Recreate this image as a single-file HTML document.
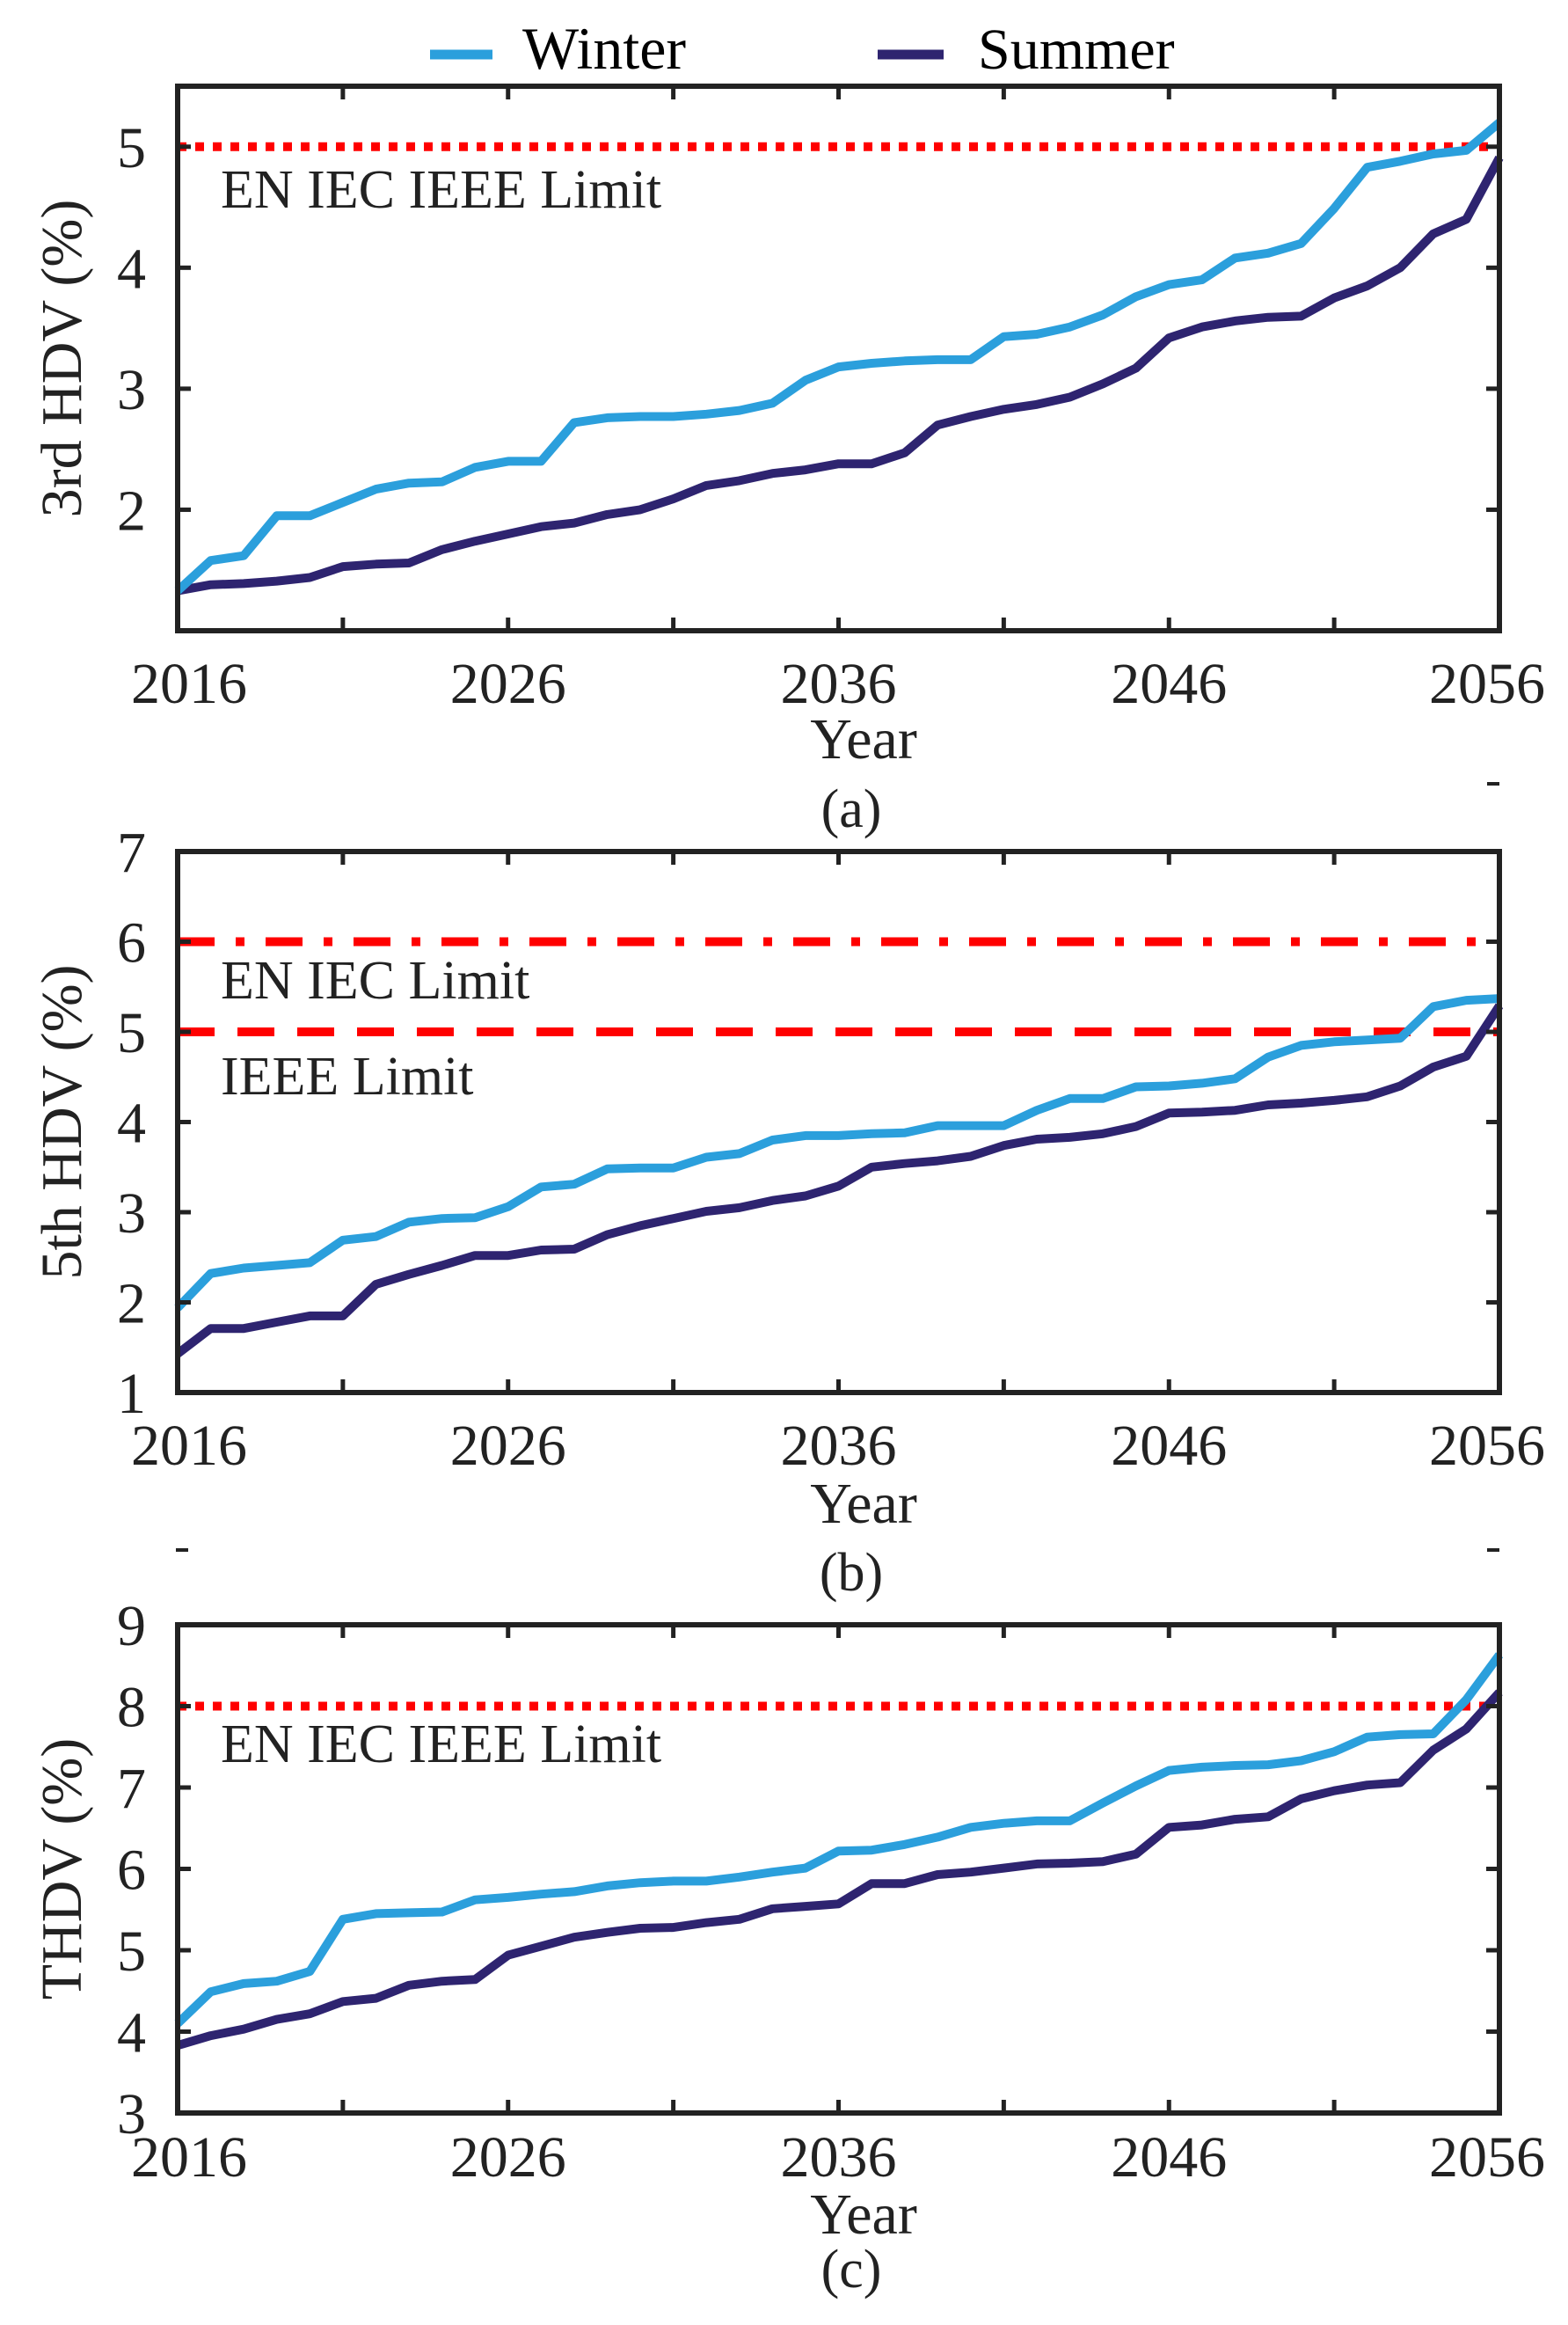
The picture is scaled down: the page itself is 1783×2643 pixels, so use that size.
<!DOCTYPE html>
<html><head><meta charset="utf-8">
<style>
html,body{margin:0;padding:0;background:#fff;}
svg{display:block;font-family:"Liberation Serif",serif;}
</style></head>
<body>
<svg id="fig" width="1783" height="2643" viewBox="0 0 1783 2643" xmlns="http://www.w3.org/2000/svg">
<rect x="0" y="0" width="1783" height="2643" fill="#fff"/>
<g>
  <line x1="489" y1="62" x2="560" y2="62" stroke="#2b9fdc" stroke-width="11"/>
  <text x="594" y="78" font-size="68">Winter</text>
  <line x1="998" y1="62" x2="1073" y2="62" stroke="#2e2470" stroke-width="11"/>
  <text x="1112" y="78" font-size="66">Summer</text>
</g>
</svg>
<script>
const years = [];
for (let y = 2016; y <= 2056; y++) years.push(y);
const xTickLabels = ["2016","2026","2036","2046","2056"];

const winterA = [1.33,1.58,1.62,1.95,1.95,2.06,2.17,2.22,2.23,2.35,2.40,2.40,2.72,2.76,2.77,2.77,2.79,2.82,2.88,3.07,3.18,3.21,3.23,3.24,3.24,3.43,3.45,3.51,3.61,3.76,3.86,3.90,4.08,4.12,4.20,4.49,4.83,4.88,4.94,4.97,5.20];
const summerA = [1.33,1.38,1.39,1.41,1.44,1.53,1.55,1.56,1.67,1.74,1.80,1.86,1.89,1.96,2.00,2.09,2.20,2.24,2.30,2.33,2.38,2.38,2.47,2.70,2.77,2.83,2.87,2.93,3.04,3.17,3.42,3.51,3.56,3.59,3.60,3.75,3.85,4.00,4.28,4.40,4.91];
const winterB = [1.94,2.32,2.38,2.41,2.44,2.69,2.73,2.89,2.93,2.94,3.06,3.28,3.31,3.48,3.49,3.49,3.61,3.65,3.80,3.85,3.85,3.87,3.88,3.96,3.96,3.96,4.13,4.26,4.26,4.39,4.40,4.43,4.48,4.72,4.85,4.89,4.91,4.93,5.28,5.35,5.37];
const summerB = [1.43,1.71,1.71,1.78,1.85,1.85,2.20,2.31,2.41,2.52,2.52,2.58,2.59,2.75,2.85,2.93,3.01,3.05,3.13,3.18,3.29,3.50,3.54,3.57,3.62,3.74,3.81,3.83,3.87,3.95,4.10,4.11,4.13,4.19,4.21,4.24,4.28,4.40,4.61,4.73,5.29];
const winterC = [4.10,4.49,4.59,4.62,4.74,5.38,5.45,5.46,5.47,5.62,5.65,5.69,5.72,5.79,5.83,5.85,5.85,5.90,5.96,6.01,6.22,6.23,6.30,6.39,6.51,6.56,6.59,6.59,6.81,7.02,7.21,7.25,7.27,7.28,7.33,7.44,7.62,7.65,7.66,8.08,8.63];
const summerC = [3.83,3.95,4.03,4.15,4.22,4.37,4.41,4.57,4.62,4.64,4.94,5.05,5.16,5.22,5.27,5.28,5.34,5.38,5.51,5.54,5.57,5.82,5.82,5.93,5.96,6.01,6.06,6.07,6.09,6.18,6.51,6.54,6.61,6.64,6.86,6.96,7.03,7.06,7.46,7.72,8.17];

const yTicksA = [2,3,4,5];
const yTicksB = [1,2,3,4,5,6,7];
const yTicksC = [3,4,5,6,7,8,9];
const limitsA = [5];
const limitsB = [6,5];
const limitsC = [8];

const NS = "http://www.w3.org/2000/svg";
const svg = document.getElementById("fig");
function mk(tag, attrs, parent){
  const e = document.createElementNS(NS, tag);
  for (const k in attrs) e.setAttribute(k, attrs[k]);
  (parent||svg).appendChild(e);
  return e;
}

const L = 202, R = 1705;
function drawPanel(p){
  const g = mk("g", {});
  
  
  const xs = v => L + (v - 2016) / 40 * (R - L);
  const ys = v => p.bottom - (v - p.ymin) / (p.ymax - p.ymin) * (p.bottom - p.top);
  p.limits.forEach((lv, i) => {
    const ln = mk("line", {x1:L, x2:R, y1:ys(lv), y2:ys(lv), stroke:"#ff0000", "stroke-width":10, "stroke-dasharray":p.dash[i]}, g);
    
    
  });
  [[p.summer,"#2e2470","summer-line"],[p.winter,"#2b9fdc","winter-line"]].forEach(([arr,col,nm]) => {
    const pts = arr.map((v,i) => xs(years[i]).toFixed(1) + "," + ys(v).toFixed(1)).join(" ");
    const pl = mk("polyline", {points:pts, fill:"none", stroke:col, "stroke-width":10, "stroke-linejoin":"round"}, g);
    
    
  });
  const fr = mk("rect", {x:L, y:p.top, width:R-L, height:p.bottom-p.top, fill:"none", stroke:"#222", "stroke-width":6}, g);
  
  
  for (let yr = 2021; yr < 2056; yr += 5) {
    const x = xs(yr);
    const t1 = mk("line", {x1:x, x2:x, y1:p.bottom, y2:p.bottom-15, stroke:"#222", "stroke-width":5}, g);
    
    
    const t2 = mk("line", {x1:x, x2:x, y1:p.top, y2:p.top+15, stroke:"#222", "stroke-width":5}, g);
    
    
  }
  xTickLabels.forEach((lab, i) => {
    let x = xs(+lab);
    if (i === 0) x = 215;
    if (i === xTickLabels.length - 1) x = 1691;
    const t = mk("text", {x:x, y:p.xlabY, "font-size":66, "text-anchor":"middle", fill:"#222"}, g);
    t.textContent = lab;
    
    
  });
  p.yticks.forEach(v => {
    const y = ys(v);
    if (v > p.ymin && v < p.ymax) {
      const a = mk("line", {x1:L, x2:L+15, y1:y, y2:y, stroke:"#222", "stroke-width":5}, g);
      
      
      const b = mk("line", {x1:R, x2:R-15, y1:y, y2:y, stroke:"#222", "stroke-width":5}, g);
      
      
    }
    const t = mk("text", {x:166, y:y+23, "font-size":66, "text-anchor":"end", fill:"#222"}, g);
    t.textContent = String(v);
    
    
  });
  const yt = mk("text", {x:0, y:0, "font-size":66, "text-anchor":"middle", fill:"#222", transform:"translate(92," + ((p.top+p.bottom)/2) + ") rotate(-90)"}, g);
  yt.textContent = p.ytitle;
  
  
  const xt = mk("text", {x:982, y:p.yearY, "font-size":66, "text-anchor":"middle", fill:"#222"}, g);
  xt.textContent = "Year";
  
  
  const cap = mk("text", {x:968, y:p.capY, "font-size":62, "text-anchor":"middle", fill:"#222"}, g);
  cap.textContent = p.cap;
  
  
  p.notes.forEach(n => {
    const t = mk("text", {x:251, y:n[1], "font-size":62, fill:"#222"}, g);
    t.textContent = n[0];
    
    
  });
}

drawPanel({name:"panel-a-3rd-hdv", top:98, bottom:717, ymin:1, ymax:5.5, winter:winterA, summer:summerA, yticks:yTicksA,
  limits:limitsA, dash:["10 10"], ytitle:"3rd HDV (%)", xlabY:799, yearY:862, capY:940, cap:"(a)",
  notes:[["EN IEC IEEE Limit",236]]});
drawPanel({name:"panel-b-5th-hdv", top:968, bottom:1583, ymin:1, ymax:7, winter:winterB, summer:summerB, yticks:yTicksB,
  limits:limitsB, dash:["42 24 10 24","42 26"], ytitle:"5th HDV (%)", xlabY:1665, yearY:1731, capY:1808, cap:"(b)",
  notes:[["EN IEC Limit",1135],["IEEE Limit",1244]]});
drawPanel({name:"panel-c-thdv", top:1847, bottom:2402, ymin:3, ymax:9, winter:winterC, summer:summerC, yticks:yTicksC,
  limits:limitsC, dash:["10 10"], ytitle:"THDV (%)", xlabY:2474, yearY:2539, capY:2600, cap:"(c)",
  notes:[["EN IEC IEEE Limit",2003]]});

[[1698,891],[207,1762],[1698,1762]].forEach(d => {
  const m = mk("line", {x1:d[0]-7, x2:d[0]+7, y1:d[1], y2:d[1], stroke:"#222", "stroke-width":4});
  
  
});
</script>
</body></html>
